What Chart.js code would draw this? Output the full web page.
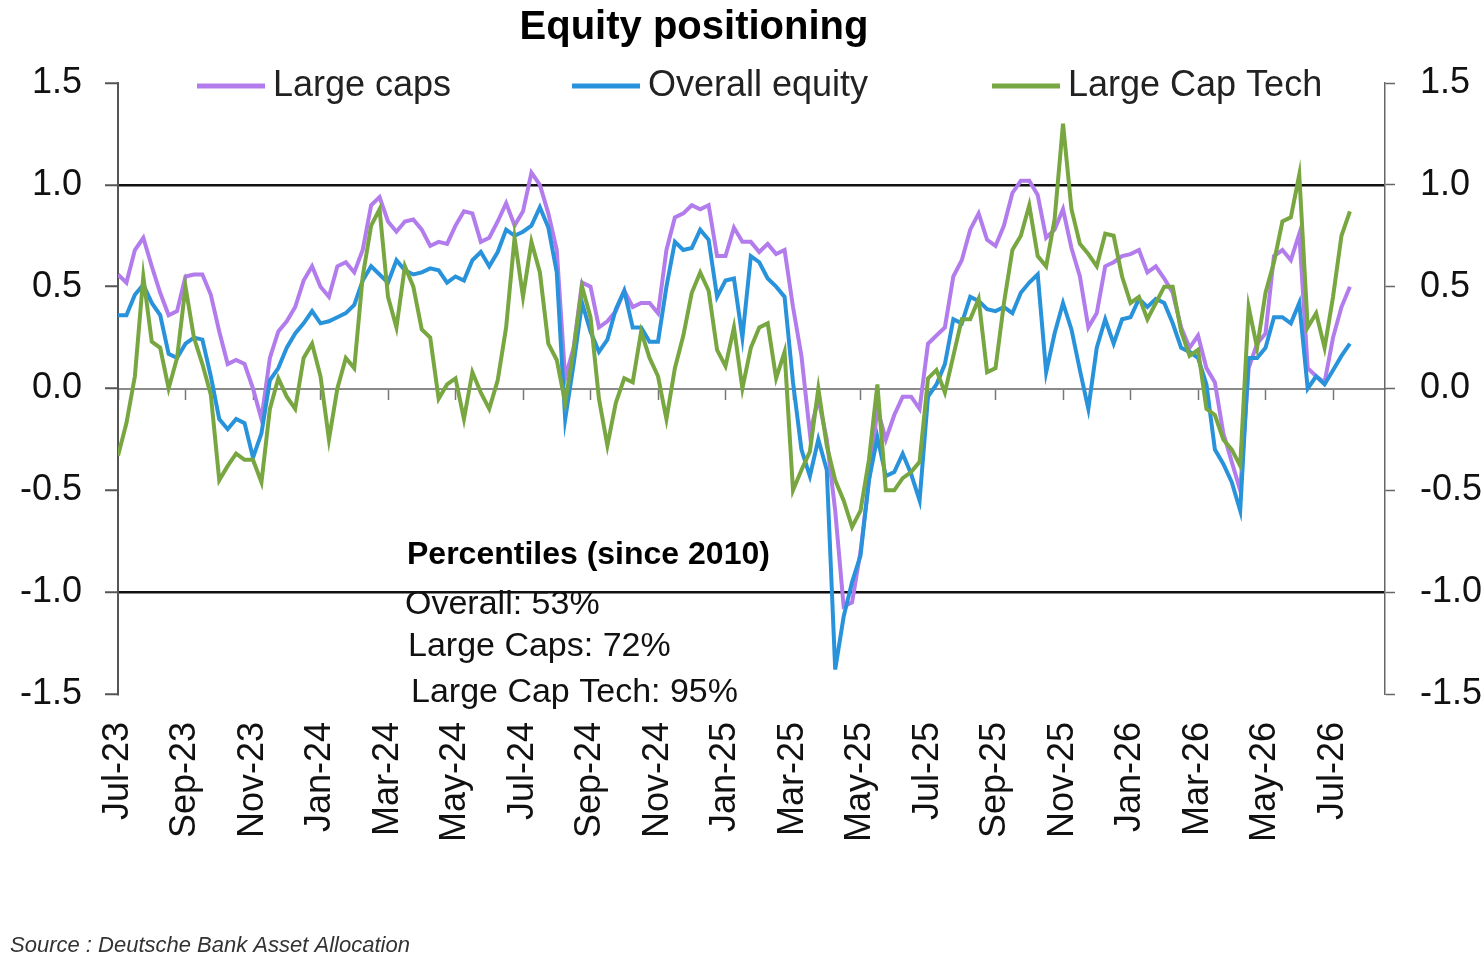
<!DOCTYPE html>
<html>
<head>
<meta charset="utf-8">
<title>Equity positioning</title>
<script src="https://cdn.jsdelivr.net/npm/chart.js@4.4.1/dist/chart.umd.min.js"></script>
<style>
  html, body { margin: 0; padding: 0; background: #fff; }
  #wrap { position: relative; width: 1484px; height: 965px; }
</style>
</head>
<body>
<div id="wrap"><canvas id="equityChart"></canvas></div>
<script>
// Equity positioning chart

// x axis labels, one every 2 months
const tickLabels = [
  'Jul-23', 'Sep-23', 'Nov-23', 'Jan-24', 'Mar-24', 'May-24', 'Jul-24', 'Sep-24', 'Nov-24', 'Jan-25',
  'Mar-25', 'May-25', 'Jul-25', 'Sep-25', 'Nov-25', 'Jan-26', 'Mar-26', 'May-26', 'Jul-26',
];

// weekly readings (4 per month) starting Jul-23
const largeCaps = [
  0.56, 0.52, 0.68, 0.74, 0.60, 0.47, 0.36, 0.38, 0.55, 0.56,
  0.56, 0.46, 0.28, 0.12, 0.14, 0.12, 0.00, -0.15, 0.15, 0.28,
  0.33, 0.40, 0.53, 0.60, 0.50, 0.45, 0.60, 0.62, 0.57, 0.68,
  0.90, 0.94, 0.82, 0.77, 0.82, 0.83, 0.78, 0.70, 0.72, 0.71,
  0.80, 0.87, 0.86, 0.72, 0.74, 0.82, 0.91, 0.80, 0.87, 1.06,
  1.00, 0.86, 0.68, 0.05, 0.20, 0.52, 0.50, 0.30, 0.33, 0.38,
  0.48, 0.40, 0.42, 0.42, 0.37, 0.68, 0.84, 0.86, 0.90, 0.88,
  0.90, 0.65, 0.65, 0.79, 0.72, 0.72, 0.67, 0.71, 0.66, 0.68,
  0.40, 0.16, -0.22, -0.05, -0.25, -0.60, -1.07, -1.05, -0.80, -0.45,
  -0.10, -0.25, -0.13, -0.04, -0.04, -0.10, 0.22, 0.26, 0.30, 0.55,
  0.63, 0.78, 0.86, 0.73, 0.70, 0.80, 0.96, 1.02, 1.02, 0.95,
  0.74, 0.78, 0.88, 0.69, 0.55, 0.30, 0.37, 0.60, 0.62, 0.65,
  0.66, 0.68, 0.57, 0.60, 0.54, 0.47, 0.30, 0.20, 0.26, 0.10,
  0.03, -0.22, -0.36, -0.50, 0.10, 0.22, 0.27, 0.65, 0.68, 0.63,
  0.76, 0.10, 0.06, 0.03, 0.25, 0.40, 0.50,
];

const overallEquity = [
  0.36, 0.36, 0.46, 0.51, 0.42, 0.36, 0.17, 0.15, 0.22, 0.25,
  0.24, 0.06, -0.15, -0.20, -0.15, -0.17, -0.34, -0.22, 0.04, 0.10,
  0.20, 0.27, 0.32, 0.38, 0.32, 0.33, 0.35, 0.37, 0.41, 0.53,
  0.60, 0.56, 0.52, 0.63, 0.58, 0.56, 0.57, 0.59, 0.58, 0.52,
  0.55, 0.53, 0.63, 0.67, 0.60, 0.67, 0.78, 0.75, 0.77, 0.80,
  0.89, 0.79, 0.57, -0.15, 0.12, 0.42, 0.28, 0.18, 0.24, 0.39,
  0.48, 0.30, 0.30, 0.23, 0.23, 0.50, 0.72, 0.68, 0.69, 0.78,
  0.73, 0.45, 0.53, 0.54, 0.25, 0.65, 0.62, 0.54, 0.50, 0.45,
  0.03, -0.30, -0.43, -0.25, -0.40, -1.38, -1.12, -0.95, -0.82, -0.45,
  -0.24, -0.43, -0.41, -0.32, -0.42, -0.55, -0.04, 0.02, 0.12, 0.34,
  0.32, 0.45, 0.43, 0.39, 0.38, 0.40, 0.37, 0.47, 0.52, 0.56,
  0.08, 0.27, 0.42, 0.29, 0.09, -0.10, 0.20, 0.34, 0.22, 0.34,
  0.35, 0.44, 0.40, 0.44, 0.42, 0.32, 0.20, 0.18, 0.15, 0.02,
  -0.30, -0.37, -0.46, -0.60, 0.15, 0.15, 0.20, 0.35, 0.35, 0.32,
  0.42, 0.00, 0.06, 0.02, 0.09, 0.16, 0.22,
];

const largeCapTech = [
  -0.33, -0.17, 0.06, 0.55, 0.23, 0.20, 0.00, 0.15, 0.50, 0.25,
  0.12, -0.03, -0.45, -0.38, -0.32, -0.35, -0.35, -0.46, -0.10, 0.05,
  -0.04, -0.10, 0.15, 0.22, 0.06, -0.25, 0.00, 0.15, 0.10, 0.55,
  0.80, 0.88, 0.45, 0.30, 0.60, 0.50, 0.29, 0.25, -0.05, 0.02,
  0.05, -0.15, 0.08, -0.02, -0.10, 0.04, 0.30, 0.74, 0.45, 0.72,
  0.57, 0.22, 0.14, -0.07, 0.19, 0.50, 0.35, -0.05, -0.28, -0.07,
  0.05, 0.03, 0.28, 0.15, 0.06, -0.15, 0.10, 0.26, 0.47, 0.57,
  0.48, 0.19, 0.11, 0.30, 0.00, 0.20, 0.30, 0.32, 0.05, 0.18,
  -0.50, -0.40, -0.31, 0.00, -0.28, -0.45, -0.55, -0.68, -0.60, -0.35,
  0.02, -0.50, -0.50, -0.44, -0.41, -0.36, 0.05, 0.09, -0.02, 0.16,
  0.34, 0.34, 0.44, 0.08, 0.10, 0.42, 0.68, 0.75, 0.90, 0.65,
  0.60, 0.83, 1.30, 0.88, 0.71, 0.66, 0.60, 0.76, 0.75, 0.55,
  0.42, 0.45, 0.34, 0.42, 0.50, 0.50, 0.28, 0.16, 0.19, -0.10,
  -0.13, -0.25, -0.30, -0.38, 0.40, 0.20, 0.47, 0.62, 0.82, 0.84,
  1.05, 0.30, 0.37, 0.20, 0.45, 0.75, 0.87,
];

const percentileTitle = 'Percentiles (since 2010)';
const percentileLines = ['Overall: 53%', 'Large Caps: 72%', 'Large Cap Tech: 95%'];
const sourceNote = 'Source : Deutsche Bank Asset Allocation';

const FONT = "'Liberation Sans', Arial, Helvetica, sans-serif";
const X_MAX = 37.54; // months shown from Jul-23 to the right axis

// one reading per week, x in months since Jul-23
const toPoints = (values) => values.map((v, i) => ({ x: i / 4, y: v }));

const yTickLabel = (value) => Number(value).toFixed(1);

// title, legend, percentile box and source note
const overlayText = {
  id: 'overlayText',
  afterDraw(chart) {
    const { ctx } = chart;
    ctx.save();
    ctx.fillStyle = '#000';
    ctx.textBaseline = 'middle';

    ctx.font = `bold 40px ${FONT}`;
    ctx.textAlign = 'center';
    ctx.fillText('Equity positioning', 694, 28);

    // legend row
    ctx.textAlign = 'left';
    ctx.font = `36px ${FONT}`;
    const legendStartX = [197, 572, 992];
    chart.data.datasets.forEach((ds, i) => {
      const x = legendStartX[i];
      ctx.strokeStyle = ds.borderColor;
      ctx.lineWidth = 5;
      ctx.beginPath();
      ctx.moveTo(x, 86);
      ctx.lineTo(x + 68, 86);
      ctx.stroke();
      ctx.fillStyle = '#222';
      ctx.fillText(ds.label, x + 76, 86);
    });

    // percentiles note
    ctx.fillStyle = '#000';
    ctx.font = `bold 32px ${FONT}`;
    ctx.fillText(percentileTitle, 407, 555);
    ctx.font = `34px ${FONT}`;
    ctx.fillStyle = '#111';
    const noteY = [605, 647, 693];
    percentileLines.forEach((line, i) => {
      ctx.fillText(line, 405 + i * 3, noteY[i]);
    });

    // source
    ctx.font = `italic 22px ${FONT}`;
    ctx.fillStyle = '#333';
    ctx.fillText(sourceNote, 10, 946);
    ctx.restore();
  },
};

let equityChart = null;

const drawEquityChart = () => {
  const ctx = document.getElementById('equityChart');
  if (!ctx) return;

  if (equityChart) {
    equityChart.destroy();
  }

  equityChart = new Chart(ctx, {
    type: 'line',
    data: {
      datasets: [
        {
          label: 'Large caps',
          data: toPoints(largeCaps),
          borderColor: '#b27cec',
          borderWidth: 4,
          pointRadius: 0,
          tension: 0,
          order: 3,
        },
        {
          label: 'Overall equity',
          data: toPoints(overallEquity),
          borderColor: '#2893da',
          borderWidth: 4,
          pointRadius: 0,
          tension: 0,
          order: 2,
        },
        {
          label: 'Large Cap Tech',
          data: toPoints(largeCapTech),
          borderColor: '#78a640',
          borderWidth: 4,
          pointRadius: 0,
          tension: 0,
          order: 1,
        },
      ],
    },
    options: {
      responsive: true,
      maintainAspectRatio: false,
      animation: false,
      layout: {
        padding: { top: 83, left: 0, right: 0, bottom: 0 },
      },
      plugins: {
        legend: { display: false },
        title: { display: false },
        tooltip: { enabled: false },
      },
      scales: {
        x: {
          type: 'linear',
          min: 0,
          max: X_MAX,
          position: { y: 0 },
          ticks: { display: false, stepSize: 2, includeBounds: false },
          grid: {
            drawOnChartArea: false,
            drawTicks: true,
            tickLength: 10,
            tickColor: '#777',
            tickWidth: 1.5,
          },
          border: { display: true, color: '#8a8a8a', width: 2 },
        },
        x2: {
          type: 'linear',
          min: 0,
          max: X_MAX,
          position: 'bottom',
          afterFit: (scale) => {
            scale.height = 271;
          },
          grid: { display: false, drawTicks: false },
          border: { display: false },
          ticks: {
            stepSize: 2,
            includeBounds: false,
            autoSkip: false,
            minRotation: 90,
            maxRotation: 90,
            padding: 28,
            color: '#111',
            font: { family: FONT, size: 36 },
            callback: (value) => tickLabels[Math.round(value / 2)] ?? '',
          },
        },
        y: {
          min: -1.5,
          max: 1.5,
          position: 'left',
          z: 1,
          afterFit: (scale) => {
            scale.width = 118;
          },
          ticks: {
            stepSize: 0.5,
            padding: 23,
            color: '#111',
            font: { family: FONT, size: 36 },
            callback: yTickLabel,
          },
          grid: {
            color: (c) => (c.tick && Math.abs(c.tick.value) === 1 ? '#111' : 'rgba(0,0,0,0)'),
            lineWidth: 2.5,
            tickColor: '#555',
            tickLength: 13,
            tickWidth: 2,
          },
          border: { display: true, color: '#555', width: 2 },
        },
        y2: {
          min: -1.5,
          max: 1.5,
          position: 'right',
          afterFit: (scale) => {
            scale.width = 99;
          },
          ticks: {
            stepSize: 0.5,
            padding: 25,
            color: '#111',
            font: { family: FONT, size: 36 },
            callback: yTickLabel,
          },
          grid: {
            drawOnChartArea: false,
            tickColor: '#666',
            tickLength: 10,
            tickWidth: 1.5,
          },
          border: { display: true, color: '#666', width: 1.5 },
        },
      },
    },
    plugins: [overlayText],
  });
};

document.addEventListener('DOMContentLoaded', drawEquityChart);
</script>
</body>
</html>
